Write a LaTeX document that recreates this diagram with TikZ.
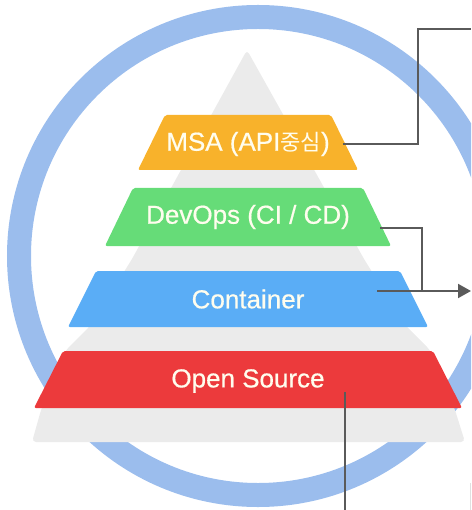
\documentclass[tikz,border=0pt]{standalone}
\usepackage{fontspec}
\setmainfont{Liberation Sans}[FakeBold=0.6]
\newfontfamily\krfont{Noto Sans CJK KR}[Scale=0.85]
\usetikzlibrary{arrows.meta}

\definecolor{ringblue}{HTML}{9BBDED}
\definecolor{pyrgray}{HTML}{EBEBEB}
\definecolor{msaorange}{HTML}{F8B22B}
\definecolor{devgreen}{HTML}{66DC78}
\definecolor{contblue}{HTML}{5AADF6}
\definecolor{osred}{HTML}{EC3A3C}
\definecolor{labelcream}{HTML}{FFFDEE}
\definecolor{wire}{HTML}{5A5A5A}

\tikzset{
  layer/.style={rounded corners=2pt},
  lab/.style={text=labelcream, font=\fontsize{26}{31}\selectfont, inner sep=0pt},
  conn/.style={draw=wire, line width=2pt},
}

\begin{document}
\begin{tikzpicture}[x=1pt, y=-1pt]
\useasboundingbox (0,0) rectangle (471,510);

% outer ring, cut by the page edge
\begin{scope}
  \clip (0,0) rectangle (471,510);
  \draw[ringblue, line width=24pt] (258,256) circle[radius=239];
\end{scope}

% grey pyramid behind the layers
\fill[pyrgray, rounded corners=4pt]
  (247,50) -- (364,259) -- (405,325) -- (430,350) -- (455,410) -- (465,442)
  -- (32,442) -- (41,410) -- (66,350) -- (91,325) -- (132,259) -- cycle;

% coloured layers
\fill[msaorange, layer] (165,115) -- (331,115) -- (358,170) -- (138,170) -- cycle;
\fill[devgreen, layer]  (133,188) -- (363,188) -- (391,246) -- (105,246) -- cycle;
\fill[contblue, layer]  (96,271) -- (400,271) -- (428,327) -- (68,327) -- cycle;
\fill[osred, layer]     (63,351) -- (433,351) -- (462,408) -- (34,408) -- cycle;

% layer labels
\node[lab] (msa)     at (248,144) {MSA (API{\krfont 중심})};
\node[lab] (devops)  at (248,217) {DevOps (CI / CD)};
\node[lab] (cont)    at (248,299) {Container};
\node[lab] (opensrc) at (248,381) {Open Source};

% connector end points
\coordinate (msabend) at (418,29);
\coordinate (msaend)  at (471,29);
\coordinate (devbend) at (422,291);
\coordinate (arrtip)  at (471,291);
\coordinate (osend)   at (345,510);

\path ([xshift=95pt]msa.center) coordinate (msa0);
\path ([xshift=132pt,yshift=-11pt]devops.center) coordinate (dev0);
\path ([xshift=129pt,yshift=8pt]cont.center) coordinate (cont0);
\path ([yshift=-11pt]opensrc.center) coordinate (os0);

\draw[conn] (msa0) -| (msabend) -- (msaend);
\draw[conn] (dev0) -| (devbend);
\draw[conn, -{Triangle[length=13pt, width=14pt]}] (cont0) -- (cont0 -| arrtip);
\draw[conn] (os0 -| osend) -- (osend);

% faint edge at the lower right
\draw[black!12, line width=1pt] (470,483) -- (470,510);
\end{tikzpicture}
\end{document}
